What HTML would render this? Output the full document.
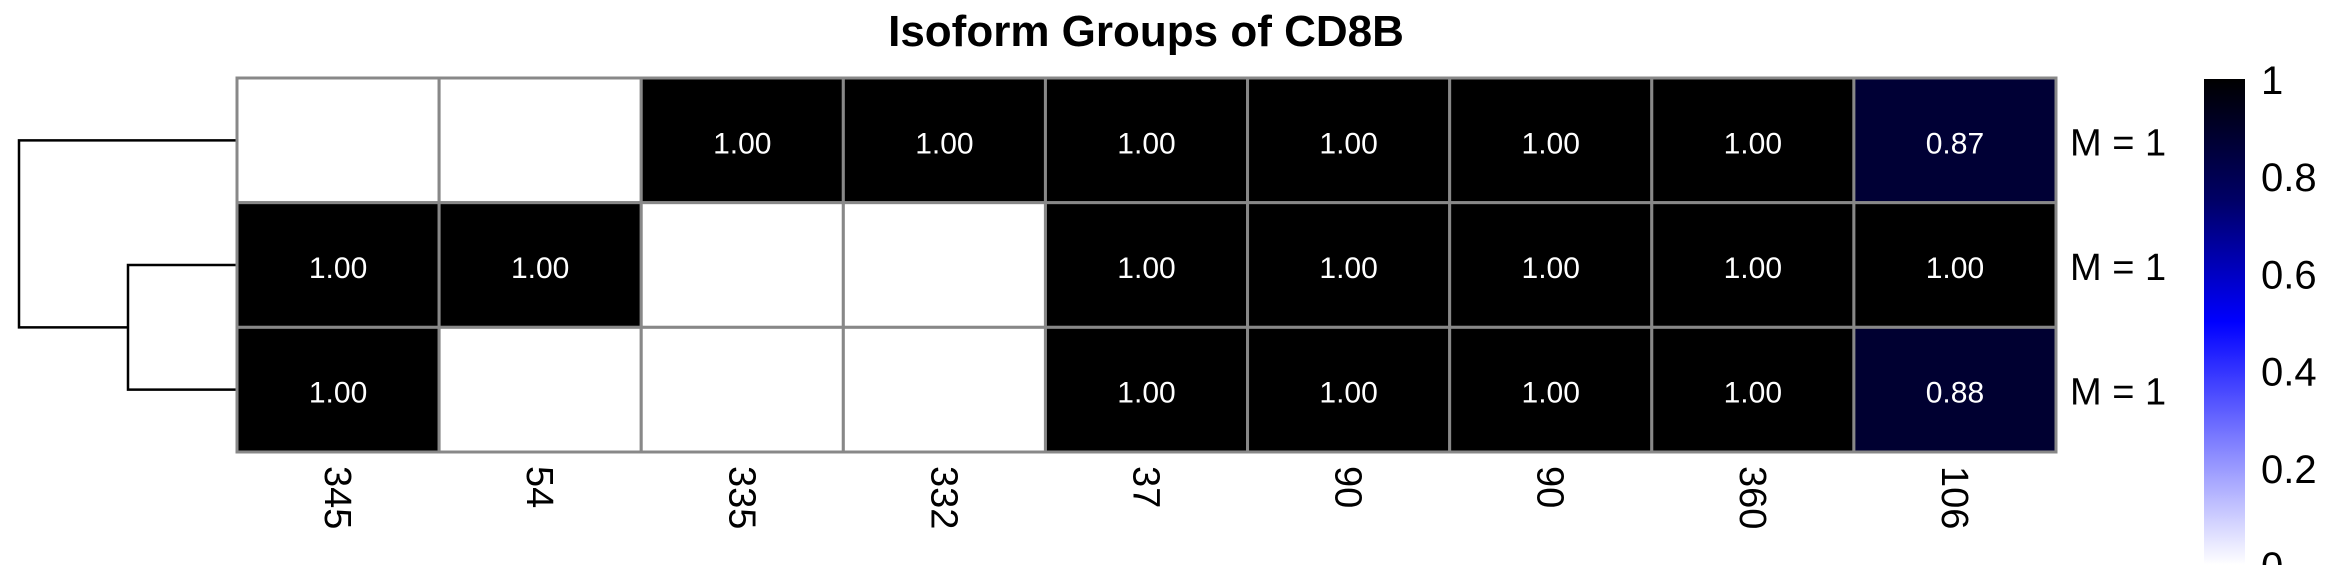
<!DOCTYPE html>
<html><head><meta charset="utf-8"><style>
html,body{margin:0;padding:0;background:#fff;}
svg{display:block;font-family:"Liberation Sans",Arial,sans-serif;}
</style></head><body>
<svg id="chart" width="2338" height="565" viewBox="0 0 2338 565" xmlns="http://www.w3.org/2000/svg">
<text x="1146" y="46" text-anchor="middle" font-size="44" font-weight="bold">Isoform Groups of CD8B</text>
<g id="dendro" stroke="#000" stroke-width="2.5" fill="none"></g>
<g id="cells"></g>
<g id="rowlabels"></g>
<g id="collabels"></g>
<g id="legend"></g>
</svg>
<script>
const columns = ["345","54","335","332","37","90","90","360","106"];
const rowLabels = ["M = 1","M = 1","M = 1"];
const row1 = [null,null,1,1,1,1,1,1,0.87];
const row2 = [1,1,null,null,1,1,1,1,1];
const row3 = [1,null,null,null,1,1,1,1,0.88];
const legendTicks = [0,0.2,0.4,0.6,0.8,1];
const rows = [row1,row2,row3];
const NS="http://www.w3.org/2000/svg";
const gx0=237,gx1=2056,gy0=78,gy1=452;
const cw=(gx1-gx0)/columns.length, rh=(gy1-gy0)/rows.length;
const xPos=i=>gx0+i*cw, yPos=j=>gy0+j*rh;
function color(v){
  if(v===null) return "#ffffff";
  if(v<=0.5){const t=v/0.5;const c=Math.round(255*(1-t));return `rgb(${c},${c},255)`;}
  const t=(v-0.5)/0.5;return `rgb(0,0,${Math.round(255*(1-t)*0.8)})`;
}
function mk(tag,attrs,parent){const e=document.createElementNS(NS,tag);for(const k in attrs)e.setAttribute(k,attrs[k]);parent.appendChild(e);return e;}
const cells=document.getElementById('cells');
rows.forEach((r,j)=>r.forEach((v,i)=>{
  const rc=mk('rect',{x:xPos(i),y:yPos(j),width:cw,height:rh,fill:color(v),stroke:"#888",'stroke-width':3},cells);
  
  
  if(v!==null){
    const t=mk('text',{x:xPos(i)+cw/2,y:yPos(j)+rh/2+13,'text-anchor':'middle','font-size':30,fill:'#fff'},cells);
    
    
    t.textContent=v.toFixed(2);
  }
}));
const rl=document.getElementById('rowlabels');
rowLabels.forEach((l,j)=>{
  const t=mk('text',{x:2070,y:yPos(j)+rh/2+15,'font-size':38},rl);
  
  
  t.textContent=l;
});
const cl=document.getElementById('collabels');
columns.forEach((c,i)=>{
  const x=xPos(i)+cw/2-13, y=466;
  const t=mk('text',{x:x,y:y,'font-size':38,transform:`rotate(90 ${x} ${y})`},cl);
  
  
  t.textContent=c;
});
const d=document.getElementById('dendro');
const ym=j=>yPos(j)+rh/2;
[
 `M${gx0} ${ym(1)} H128 V${ym(2)} H${gx0}`,
 `M128 ${(ym(1)+ym(2))/2} H19 V${ym(0)} H${gx0}`
].forEach(p=>{const e=mk('path',{d:p},d);});
const lg=document.getElementById('legend');
const ly0=79,ly1=565,lx=2204,lw=41;
const ly=v=>ly1-(ly1-ly0)*v;
const defs=mk('defs',{},lg);
const grad=mk('linearGradient',{id:'lgrad',x1:0,y1:1,x2:0,y2:0},defs);
[0,0.25,0.5,0.75,1].forEach(v=>mk('stop',{offset:v,'stop-color':color(v)},grad));
const bar=mk('rect',{x:lx,y:ly0,width:lw,height:ly1-ly0,fill:'url(#lgrad)'},lg);


legendTicks.forEach(v=>{
  const t=mk('text',{x:2261,y:ly(v)+15,'font-size':40},lg);
  
  
  t.textContent=String(v);
});
</script>
</body></html>
